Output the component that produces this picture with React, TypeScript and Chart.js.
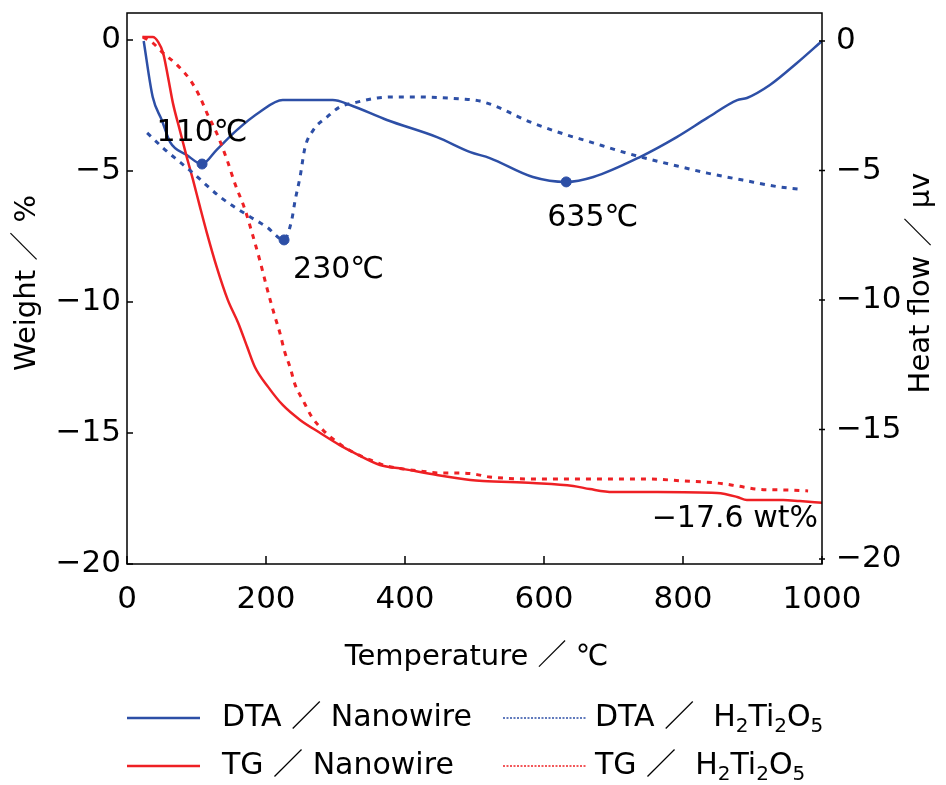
import { useEffect, useRef } from "react";
import { Chart, registerables } from "chart.js";
Chart.register(...registerables);

// ---- data ----
const xTicks = [0, 200, 400, 600, 800, 1000];
const yTicks = [0, -5, -10, -15, -20];

const dtaNanoT = [24, 37, 50, 62, 86, 108, 129, 158, 191, 224, 296, 321, 374, 446, 494, 522, 584, 632, 671, 738, 791, 835, 878, 892, 925, 964, 1000];
const dtaNanoV = [0, -2.16, -3.05, -3.9, -4.4, -4.75, -4.2, -3.44, -2.74, -2.28, -2.28, -2.47, -3.05, -3.71, -4.29, -4.52, -5.25, -5.44, -5.25, -4.48, -3.71, -2.97, -2.28, -2.2, -1.7, -0.85, 0];

const dtaHtoT = [29, 52, 95, 134, 173, 201, 226, 237, 242, 249, 256, 268, 288, 306, 331, 360, 383, 412, 482, 508, 537, 561, 584, 633, 662, 709, 734, 786, 835, 886, 940, 965];
const dtaHtoV = [-3.55, -4.13, -5.1, -6.02, -6.72, -7.18, -7.68, -6.91, -6.14, -5.25, -4.13, -3.44, -2.93, -2.55, -2.36, -2.2, -2.16, -2.16, -2.24, -2.32, -2.59, -2.9, -3.17, -3.63, -3.86, -4.25, -4.44, -4.79, -5.1, -5.37, -5.64, -5.71];

const tgNanoT = [22, 37, 45, 52, 59, 66, 76, 86, 95, 105, 115, 129, 145, 160, 173, 184, 203, 224, 249, 278, 306, 325, 364, 397, 446, 494, 512, 584, 642, 666, 699, 763, 849, 878, 892, 944, 968, 1000];
const tgNanoV = [0.11, 0.11, -0.08, -0.5, -1.41, -2.4, -3.44, -4.47, -5.34, -6.37, -7.37, -8.66, -9.92, -10.8, -11.72, -12.48, -13.24, -13.93, -14.5, -15.0, -15.46, -15.73, -16.22, -16.37, -16.6, -16.79, -16.83, -16.91, -17.02, -17.14, -17.25, -17.25, -17.29, -17.44, -17.56, -17.56, -17.6, -17.66];

const tgHtoT = [23, 37, 52, 72, 91, 105, 115, 129, 144, 155, 170, 180, 191, 201, 206, 213, 220, 227, 235, 242, 253, 266, 282, 304, 325, 350, 374, 397, 422, 450, 475, 498, 522, 609, 753, 800, 849, 878, 906, 954, 980];
const tgHtoV = [0.11, -0.11, -0.5, -0.95, -1.53, -2.18, -2.79, -3.55, -4.58, -5.46, -6.49, -7.37, -8.4, -9.43, -9.92, -10.57, -11.18, -11.91, -12.52, -13.17, -13.74, -14.39, -14.89, -15.38, -15.73, -16.03, -16.26, -16.37, -16.45, -16.53, -16.53, -16.56, -16.68, -16.76, -16.76, -16.83, -16.91, -17.02, -17.14, -17.18, -17.21];

const peakT = [108, 226, 632];
const peakV = [-4.75, -7.68, -5.44];
const peakLabels = ["110℃", "230℃", "635℃"];
const finalLabel = "−17.6 wt%";

const BLUE = "#2d4fa6";
const RED = "#ee2024";
const FONT = '"DejaVu Sans", "Noto Sans CJK JP", sans-serif';

const pts = (t: number[], v: number[]) => t.map((x, i) => ({ x, y: v[i] }));
const minus = (v: number | string) => String(v).replace("-", "−");
const noPad = (s: any) => { s.paddingTop = 0; s.paddingBottom = 0; s.paddingLeft = 0; s.paddingRight = 0; };

export default function App() {
  const ref = useRef<HTMLCanvasElement | null>(null);
  useEffect(() => {
    if (!ref.current) return;
    const decor = {
      id: "decor",
      afterDraw(chart: any) {
        const ctx = chart.ctx as CanvasRenderingContext2D;
        const a = chart.chartArea;
        const xs = chart.scales.x, yl = chart.scales.y, yr = chart.scales.y1;
        ctx.save();
        ctx.strokeStyle = "#000";
        ctx.lineWidth = 1.5;
        ctx.strokeRect(a.left, a.top, a.right - a.left, a.bottom - a.top);
        ctx.beginPath();
        xTicks.forEach((v) => {
          const px = xs.getPixelForValue(v);
          ctx.moveTo(px, a.bottom); ctx.lineTo(px, a.bottom - 8);
        });
        yTicks.forEach((v) => {
          const p1 = yl.getPixelForValue(v);
          ctx.moveTo(a.left, p1); ctx.lineTo(a.left + 6, p1);
          const p2 = yr.getPixelForValue(v);
          ctx.moveTo(a.right - 3, p2); ctx.lineTo(a.right + 3, p2);
        });
        ctx.stroke();
        ctx.fillStyle = "#000";
        ctx.textBaseline = "middle";
        ctx.textAlign = "center";
        ctx.font = `29px ${FONT}`;
        ctx.fillText("Temperature ／ ℃", (a.left + a.right) / 2 + 2, 657);
        ctx.save();
        ctx.translate(27, 283);
        ctx.rotate(-Math.PI / 2);
        ctx.fillText("Weight ／ %", 0, 0);
        ctx.restore();
        ctx.save();
        ctx.translate(921, 283);
        ctx.rotate(-Math.PI / 2);
        ctx.fillText("Heat flow ／ μv", 0, 0);
        ctx.restore();
        ctx.font = `30px ${FONT}`;
        const offs = [[0, -31, "center"], [9, 30, "left"], [-19, 36, "left"]];
        peakT.forEach((t, i) => {
          const px = xs.getPixelForValue(t), py = yr.getPixelForValue(peakV[i]);
          ctx.textAlign = offs[i][2] as CanvasTextAlign;
          ctx.fillText(peakLabels[i], px + (offs[i][0] as number), py + (offs[i][1] as number));
        });
        const lastT = tgNanoT[tgNanoT.length - 1], lastV = tgNanoV[tgNanoV.length - 1];
        ctx.textAlign = "right";
        ctx.fillText(finalLabel, xs.getPixelForValue(lastT) - 4, yl.getPixelForValue(lastV) + 17);
        const rows = [
          { y: 718, c: BLUE, lab: "DTA" },
          { y: 766, c: RED, lab: "TG" },
        ];
        rows.forEach((r) => {
          ctx.strokeStyle = r.c;
          ctx.lineWidth = 2.5;
          ctx.setLineDash([]);
          ctx.beginPath(); ctx.moveTo(127, r.y); ctx.lineTo(200, r.y); ctx.stroke();
          ctx.lineWidth = 1.5;
          ctx.setLineDash([2, 1.5]);
          ctx.beginPath(); ctx.moveTo(503, r.y); ctx.lineTo(587, r.y); ctx.stroke();
          ctx.setLineDash([]);
          ctx.fillStyle = "#000";
          ctx.textAlign = "left";
          ctx.font = `30px ${FONT}`;
          ctx.fillText(`${r.lab} ／ Nanowire`, 222, r.y);
          let x = 595;
          const head = `${r.lab} ／  `;
          ctx.fillText(head, x, r.y);
          x += ctx.measureText(head).width;
          const parts: [string, boolean][] = [["H", false], ["2", true], ["Ti", false], ["2", true], ["O", false], ["5", true]];
          parts.forEach(([s, sub]) => {
            ctx.font = sub ? `20px ${FONT}` : `30px ${FONT}`;
            ctx.fillText(s, x, sub ? r.y + 9 : r.y);
            x += ctx.measureText(s).width;
          });
        });
        ctx.restore();
      },
    };

    const line = (data: any, color: string, axis: string, dashed: boolean) => ({
      type: "line" as const,
      data,
      yAxisID: axis,
      borderColor: color,
      backgroundColor: color,
      borderWidth: dashed ? 3 : 2.5,
      borderDash: dashed ? [5, 6] : [],
      pointRadius: 0,
      cubicInterpolationMode: "monotone" as const,
      fill: false,
    });

    const chart = new Chart(ref.current, {
      type: "line",
      data: {
        datasets: [
          line(pts(tgHtoT, tgHtoV), RED, "y", true),
          line(pts(dtaHtoT, dtaHtoV), BLUE, "y1", true),
          line(pts(tgNanoT, tgNanoV), RED, "y", false),
          line(pts(dtaNanoT, dtaNanoV), BLUE, "y1", false),
          {
            type: "scatter" as const,
            data: pts(peakT, peakV),
            yAxisID: "y1",
            pointRadius: 5,
            pointBackgroundColor: BLUE,
            pointBorderColor: BLUE,
            showLine: false,
          } as any,
        ],
      },
      options: {
        responsive: false,
        animation: false,
        devicePixelRatio: 1,
        layout: { padding: { top: 13, left: 0, right: 0, bottom: 0 } },
        plugins: { legend: { display: false }, tooltip: { enabled: false } },
        scales: {
          x: {
            type: "linear",
            min: 0,
            max: 1000,
            grid: { display: false, drawTicks: false },
            border: { display: false },
            afterBuildTicks: (s: any) => { s.ticks = xTicks.map((value) => ({ value })); },
            afterFit: (s: any) => { s.height = 785 - 564; noPad(s); },
            ticks: { autoSkip: false, maxRotation: 0, padding: 17, color: "#000", font: { family: FONT, size: 31 }, callback: (v: any) => minus(v) },
          },
          y: {
            type: "linear",
            position: "left",
            min: -20,
            max: 1.03,
            grid: { display: false, drawTicks: false },
            border: { display: false },
            afterBuildTicks: (s: any) => { s.ticks = yTicks.map((value) => ({ value })); },
            afterFit: (s: any) => { s.width = 127; noPad(s); },
            ticks: { autoSkip: false, padding: 6, color: "#000", font: { family: FONT, size: 31 }, callback: (v: any) => minus(v) },
          },
          y1: {
            type: "linear",
            position: "right",
            min: -20.19,
            max: 1.08,
            grid: { display: false, drawTicks: false },
            border: { display: false },
            afterBuildTicks: (s: any) => { s.ticks = yTicks.map((value) => ({ value })); },
            afterFit: (s: any) => { s.width = 946 - 822; noPad(s); },
            ticks: { autoSkip: false, padding: 14, color: "#000", font: { family: FONT, size: 31 }, callback: (v: any) => minus(v) },
          },
        },
      },
      plugins: [decor],
    } as any);
    return () => chart.destroy();
  }, []);

  return (
    <div style={{ position: "absolute", left: 0, top: 0, width: 946, height: 785, background: "#fff" }}>
      <canvas ref={ref} width={946} height={785} style={{ display: "block" }} />
    </div>
  );
}
